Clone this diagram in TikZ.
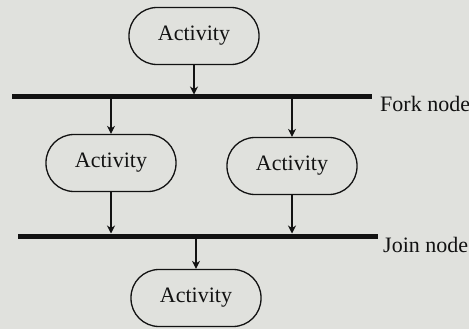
\documentclass[tikz,border=0pt]{standalone}
\usepackage{fontspec}
\setmainfont{Liberation Serif}
\usetikzlibrary{arrows.meta}
\definecolor{paper}{RGB}{224,225,221}
\definecolor{ink}{RGB}{18,18,18}
\begin{document}
\begin{tikzpicture}[x=1pt,y=-1pt,
  activity/.style={draw=ink, line width=1.3pt, rectangle, rounded corners=28pt,
    minimum width=130pt, minimum height=57pt, font=\fontsize{22}{24}\selectfont, text=ink, inner sep=0pt},
  bar/.style={draw=ink, line width=5pt},
  flow/.style={draw=ink, line width=1.1pt, -{Stealth[length=8pt,width=8pt,inset=2.5pt]}},
  barlabel/.style={anchor=west, font=\fontsize{22}{24}\selectfont, text=ink, inner sep=0pt}]
  % page and bounding box
  \fill[paper] (0,0) rectangle (469,329);
  \useasboundingbox (0,0) rectangle (469,329);

  % activities
  \node[activity] (a1) at (194,36) {Activity};
  \node[activity] (a2) at (111,163) {Activity};
  \node[activity] (a3) at (292,166) {Activity};
  \node[activity] (a4) at (196,298) {Activity};

  % fork and join bars
  \coordinate (forkL) at (12,97);
  \coordinate (forkR) at (372,97);
  \coordinate (joinL) at (18,236);
  \coordinate (joinR) at (378,236);
  \draw[bar] (forkL) -- (forkR);
  \draw[bar] (joinL) -- (joinR);
  \node[barlabel] (forklbl) at (380,104) {Fork node};
  \node[barlabel] (joinlbl) at (383,245) {Join node};

  % flows
  \coordinate (fin) at (194,94.5);
  \coordinate (fout1) at (111,99.5);
  \coordinate (fout2) at (292,99.5);
  \coordinate (jin1) at (111,233.5);
  \coordinate (jin2) at (292,233.5);
  \coordinate (jout) at (196,238.5);
  \draw[flow] (a1.south) -- (fin);
  \draw[flow] (fout1) -- (a2.north);
  \draw[flow] (fout2) -- (a3.north);
  \draw[flow] (a2.south) -- (jin1);
  \draw[flow] (a3.south) -- (jin2);
  \draw[flow] (jout) -- (a4.north);
\end{tikzpicture}
\end{document}
